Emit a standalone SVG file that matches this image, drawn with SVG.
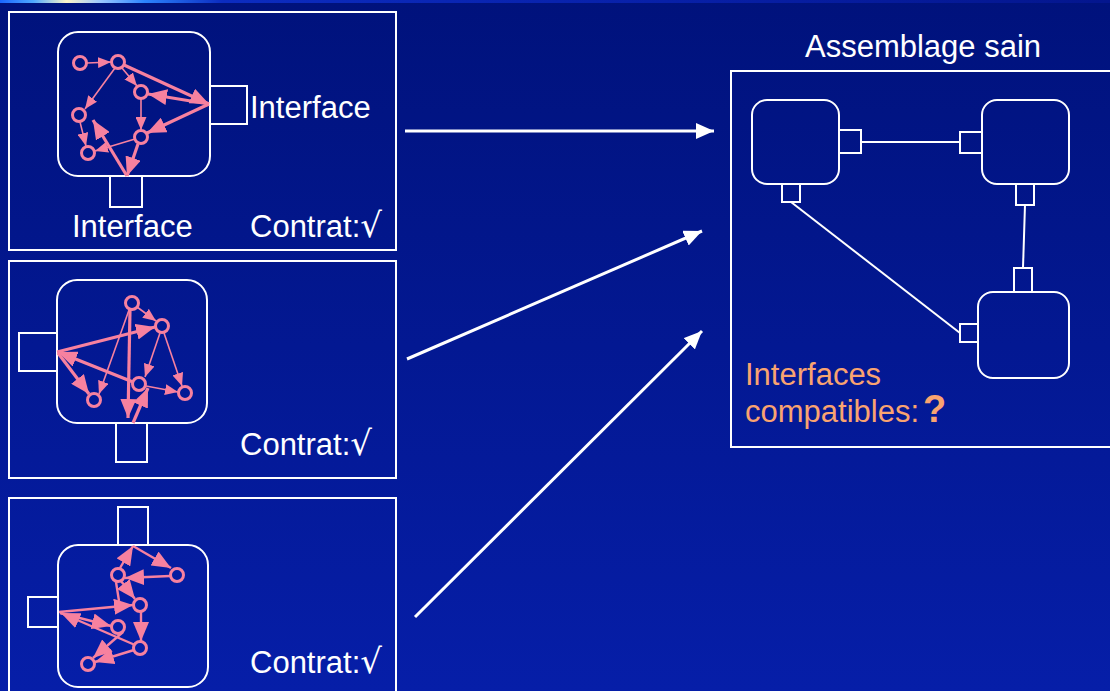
<svg xmlns="http://www.w3.org/2000/svg" width="1110" height="691" viewBox="0 0 1110 691">
<defs>
<linearGradient id="bg" x1="0" y1="0" x2="0" y2="1">
<stop offset="0" stop-color="#00127C"/>
<stop offset="1" stop-color="#061EA8"/>
</linearGradient>
<linearGradient id="topbar" x1="0" y1="0" x2="1" y2="0">
<stop offset="0" stop-color="#1A66FF"/>
<stop offset="0.03" stop-color="#4FA8FF"/>
<stop offset="0.06" stop-color="#FFF6C8"/>
<stop offset="0.09" stop-color="#9CC8FF"/>
<stop offset="0.13" stop-color="#2C84FF"/>
<stop offset="0.2" stop-color="#0C2CC0"/>
<stop offset="0.6" stop-color="#0820A8"/>
<stop offset="1" stop-color="#04168E"/>
</linearGradient>
<marker id="ps" markerUnits="userSpaceOnUse" markerWidth="13" markerHeight="11" refX="13" refY="5.5" orient="auto"><path d="M0,0 L13,5.5 L0,11 z" fill="#F7819F"/></marker>
<marker id="pl" markerUnits="userSpaceOnUse" markerWidth="19" markerHeight="16" refX="19" refY="8" orient="auto"><path d="M0,0 L19,8 L0,16 z" fill="#F7819F"/></marker>
<marker id="wa" markerUnits="userSpaceOnUse" markerWidth="18" markerHeight="16" refX="18" refY="8" orient="auto"><path d="M0,0 L18,8 L0,16 z" fill="#FFFFFF"/></marker>
</defs>
<style>
.frame{fill:none;stroke:#FFFFFF;stroke-width:2}
.comp{fill:none;stroke:#FFFFFF;stroke-width:2}
.port{fill:none;stroke:#FFFFFF;stroke-width:2}
.nd{fill:none;stroke:#F7819F;stroke-width:3}
.t{stroke:#F7819F;stroke-width:1.6;fill:none;marker-end:url(#ps)}
.k{stroke:#F7819F;stroke-width:3.2;fill:none;marker-end:url(#pl)}
.m{stroke:#F7819F;stroke-width:2.4;fill:none;marker-end:url(#pl)}
.w{stroke:#FFFFFF;stroke-width:3;fill:none;marker-end:url(#wa)}
.lk{stroke:#FFFFFF;stroke-width:2;fill:none}
.lbl{font-family:"Liberation Sans",Arial,sans-serif;font-size:31px;fill:#FFFFFF}
.org{font-family:"Liberation Sans",Arial,sans-serif;font-size:31px;fill:#F9A370}
.rad{font-family:"DejaVu Sans",sans-serif;font-size:34px}
</style>
<rect x="0" y="0" width="1110" height="691" fill="url(#bg)"/>
<rect x="0" y="0" width="1110" height="3" fill="url(#topbar)"/>

<g id="component1">
<rect class="frame" x="9" y="12" width="387" height="238"/>
<rect class="comp" x="58" y="32" width="152" height="144" rx="20"/>
<rect class="port" x="210" y="86" width="37" height="38"/>
<rect class="port" x="110" y="176" width="32" height="31"/>
<circle class="nd" cx="80" cy="63" r="6.5"/>
<circle class="nd" cx="118" cy="62" r="6.5"/>
<circle class="nd" cx="141" cy="92" r="6.5"/>
<circle class="nd" cx="79" cy="115" r="6.5"/>
<circle class="nd" cx="141" cy="137" r="6.5"/>
<circle class="nd" cx="88" cy="153" r="6.5"/>
<line class="t" x1="87" y1="63" x2="111" y2="62"/>
<line class="t" x1="122" y1="68" x2="137" y2="86"/>
<line class="t" x1="115" y1="68" x2="85" y2="109"/>
<line class="k" x1="124" y1="65" x2="209" y2="104"/>
<line class="k" x1="209" y1="104" x2="148" y2="94"/>
<line class="k" x1="209" y1="104" x2="147" y2="133"/>
<line class="t" x1="141" y1="99" x2="141" y2="130"/>
<line class="t" x1="80" y1="122" x2="86" y2="146"/>
<line class="t" x1="135" y1="139" x2="95" y2="151"/>
<line class="k" x1="138" y1="144" x2="127" y2="176"/>
<line class="k" x1="127" y1="176" x2="93" y2="120"/>
<text class="lbl" x="250" y="118">Interface</text>
<text class="lbl" x="72" y="237">Interface</text>
<text class="lbl" x="250" y="237">Contrat:<tspan class="rad">√</tspan></text>
</g>

<g id="component2">
<rect class="frame" x="9" y="261" width="387" height="217"/>
<rect class="comp" x="57" y="280" width="150" height="143" rx="20"/>
<rect class="port" x="19" y="333" width="38" height="38"/>
<rect class="port" x="116" y="423" width="31" height="39"/>
<circle class="nd" cx="132" cy="303" r="6.5"/>
<circle class="nd" cx="162" cy="326" r="6.5"/>
<circle class="nd" cx="139" cy="384" r="6.5"/>
<circle class="nd" cx="94" cy="400" r="6.5"/>
<circle class="nd" cx="185" cy="393" r="6.5"/>
<line class="t" x1="137" y1="307" x2="156" y2="321"/>
<line class="t" x1="129" y1="310" x2="99" y2="394"/>
<line class="k" x1="130" y1="310" x2="128" y2="418"/>
<line class="k" x1="57" y1="352" x2="155" y2="327"/>
<line class="k" x1="133" y1="382" x2="58" y2="352"/>
<line class="k" x1="58" y1="353" x2="89" y2="394"/>
<line class="t" x1="160" y1="333" x2="145" y2="377"/>
<line class="t" x1="164" y1="333" x2="182" y2="386"/>
<line class="t" x1="146" y1="386" x2="178" y2="392"/>
<line class="k" x1="133" y1="423" x2="148" y2="388"/>
<text class="lbl" x="240" y="455">Contrat:<tspan class="rad">√</tspan></text>
</g>

<g id="component3">
<rect class="frame" x="9" y="498" width="387" height="200"/>
<rect class="comp" x="58" y="545" width="150" height="142" rx="20"/>
<rect class="port" x="118" y="507" width="30" height="38"/>
<rect class="port" x="28" y="597" width="30" height="30"/>
<circle class="nd" cx="118" cy="575" r="6.5"/>
<circle class="nd" cx="177" cy="575" r="6.5"/>
<circle class="nd" cx="140" cy="605" r="6.5"/>
<circle class="nd" cx="118" cy="627" r="6.5"/>
<circle class="nd" cx="140" cy="648" r="6.5"/>
<circle class="nd" cx="88" cy="664" r="6.5"/>
<line class="m" x1="120" y1="568" x2="133" y2="546"/>
<line class="m" x1="133" y1="546" x2="171" y2="568"/>
<line class="m" x1="170" y1="576" x2="125" y2="578"/>
<line class="m" x1="121" y1="581" x2="135" y2="599"/>
<line class="lk" style="stroke:#F7819F;stroke-width:2.4" x1="116" y1="582" x2="119" y2="601"/>
<line class="m" x1="59" y1="612" x2="133" y2="605"/>
<line class="m" x1="135" y1="645" x2="61" y2="613"/>
<line class="m" x1="60" y1="613" x2="111" y2="626"/>
<line class="m" x1="141" y1="612" x2="141" y2="641"/>
<line class="m" x1="123" y1="632" x2="93" y2="658"/>
<line class="m" x1="134" y1="650" x2="95" y2="662"/>
<text class="lbl" x="250" y="673">Contrat:<tspan class="rad">√</tspan></text>
</g>

<g id="assemblage">
<text class="lbl" x="805" y="57">Assemblage sain</text>
<rect class="frame" x="731" y="71" width="400" height="376"/>
<g id="a-c1">
<rect class="comp" x="752" y="100" width="87" height="84" rx="15"/>
<rect class="port" x="839" y="130" width="22" height="23"/>
<rect class="port" x="782" y="184" width="18" height="18"/>
</g>
<g id="a-c2">
<rect class="comp" x="982" y="100" width="87" height="84" rx="15"/>
<rect class="port" x="960" y="132" width="22" height="21"/>
<rect class="port" x="1016" y="184" width="18" height="21"/>
</g>
<g id="a-c3">
<rect class="comp" x="978" y="292" width="91" height="86" rx="15"/>
<rect class="port" x="1014" y="268" width="18" height="24"/>
<rect class="port" x="960" y="324" width="18" height="18"/>
</g>
<text class="org" x="745" y="385">Interfaces</text>
<text class="org" x="745" y="422">compatibles:<tspan font-weight="bold" font-size="38" dx="4">?</tspan></text>
</g>

<g id="connectors">
<line class="lk" x1="861" y1="142" x2="960" y2="142"/>
<line class="lk" x1="1025" y1="205" x2="1023" y2="268"/>
<line class="lk" x1="791" y1="202" x2="960" y2="333"/>
<line class="w" x1="405" y1="131" x2="714" y2="131"/>
<line class="w" x1="407" y1="359" x2="702" y2="231"/>
<line class="w" x1="415" y1="617" x2="702" y2="331"/>
</g>
</svg>
